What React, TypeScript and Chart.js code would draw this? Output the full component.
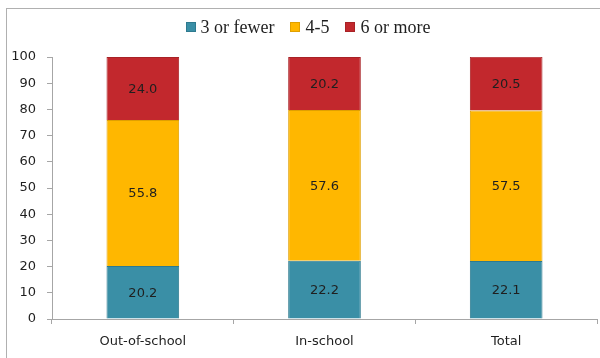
import React, { useEffect, useRef } from "react";
import { Chart, registerables } from "chart.js";

Chart.register(...registerables);

const categories = ["Out-of-school", "In-school", "Total"];
const seriesNames = ["3 or fewer", "4-5", "6 or more"];
const fewer = [20.2, 22.2, 22.1];
const mid = [55.8, 57.6, 57.5];
const more = [24.0, 20.2, 20.5];
const yTicks = [0, 10, 20, 30, 40, 50, 60, 70, 80, 90, 100];

const fills = ["#3a8fa6", "#ffb700", "#c2282d"];
const edges = ["#2e7a8f", "#e0a000", "#a82226"];
const textColor = "#1f1f1f";

const labelPlugin = {
  id: "segLabels",
  afterDatasetsDraw(chart: any) {
    const ctx = chart.ctx;
    ctx.save();
    ctx.font = "13px 'DejaVu Sans'";
    ctx.fillStyle = textColor;
    ctx.textAlign = "center";
    ctx.textBaseline = "middle";
    chart.data.datasets.forEach((ds: any, i: number) => {
      const meta = chart.getDatasetMeta(i);
      meta.data.forEach((el: any, j: number) => {
        const v = ds.data[j];
        const y = (el.y + el.base) / 2;
        ctx.fillText(v.toFixed(1), el.x, y + 1);
      });
    });
    ctx.restore();
  },
};

export default function App() {
  const ref = useRef<HTMLCanvasElement>(null);
  useEffect(() => {
    document.body.style.overflow = "hidden";
    const chart = new Chart(ref.current!, {
      type: "bar",
      data: {
        labels: categories,
        datasets: [fewer, mid, more].map((d, i) => ({
          label: seriesNames[i],
          data: d,
          backgroundColor: fills[i],
          borderColor: edges[i],
          borderWidth: 1,
          categoryPercentage: 1,
          barPercentage: 0.4,
        })),
      },
      options: {
        animation: false,
        responsive: false,
        devicePixelRatio: 1,
        layout: { padding: { left: 0, right: 3, top: 57, bottom: 0 } },
        plugins: {
          tooltip: { enabled: false },
          legend: { display: false },
        },
        scales: {
          x: {
            stacked: true,
            grid: {
              drawOnChartArea: false,
              tickLength: 5,
              color: "#a6a6a6",
              offset: true,
            },
            border: { color: "#a6a6a6", width: 1 },
            ticks: {
              color: textColor,
              font: { family: "'DejaVu Sans'", size: 13 },
              padding: 10,
            },
            afterFit: (s: any) => {
              s.height = 39;
            },
          },
          y: {
            stacked: true,
            min: 0,
            max: 100,
            afterBuildTicks: (s: any) => {
              s.ticks = yTicks.map((v) => ({ value: v }));
            },
            grid: {
              drawOnChartArea: false,
              tickLength: 5,
              color: "#a6a6a6",
            },
            border: { color: "#a6a6a6", width: 1 },
            ticks: {
              color: textColor,
              font: { family: "'DejaVu Sans'", size: 13 },
              padding: 11,
            },
            afterFit: (s: any) => {
              s.width = 52;
            },
          },
        },
      },
      plugins: [labelPlugin],
    } as any);
    return () => chart.destroy();
  }, []);
  return (
    <>
      <div
        style={{
          position: "fixed",
          left: 6,
          top: 8,
          width: 600,
          height: 400,
          borderLeft: "1px solid #b0b0b0",
          borderTop: "1px solid #b0b0b0",
          boxSizing: "border-box",
        }}
      />
      <canvas
        ref={ref}
        width={600}
        height={358}
        style={{ position: "fixed", left: 0, top: 0, width: 600, height: 358 }}
      />
      <div
        style={{
          position: "fixed",
          left: 0,
          top: 17,
          width: 616,
          height: 20,
          display: "flex",
          justifyContent: "center",
          alignItems: "center",
          fontFamily: "'Liberation Serif', serif",
          fontSize: 18,
          color: textColor,
          whiteSpace: "nowrap",
        }}
      >
        {seriesNames.map((n, i) => (
          <span
            key={n}
            style={{ display: "flex", alignItems: "center", marginLeft: i ? 16 : 0 }}
          >
            <span
              style={{
                display: "inline-block",
                width: 8,
                height: 8,
                background: fills[i],
                border: `1px solid ${edges[i]}`,
                marginRight: 5,
              }}
            />
            {n}
          </span>
        ))}
      </div>
    </>
  );
}
